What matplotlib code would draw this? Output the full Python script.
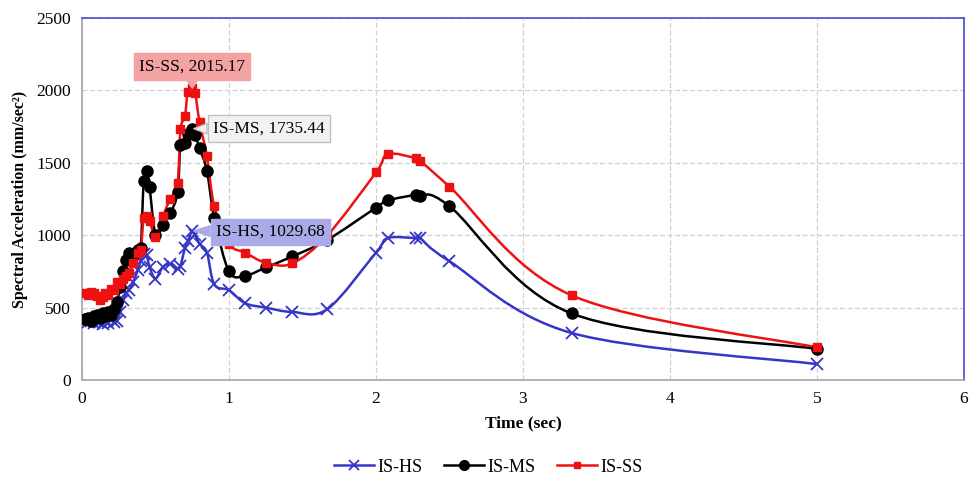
import matplotlib.pyplot as plt
from matplotlib.path import Path
from matplotlib.patches import PathPatch
from matplotlib.lines import Line2D

plt.rcParams['font.family'] = ['Liberation Serif', 'DejaVu Serif']

periods = [0.02, 0.04, 0.06, 0.08, 0.10, 0.12, 0.14, 0.16, 0.18, 0.20,
           0.22, 0.24, 0.26, 0.28, 0.30, 0.32, 0.35, 0.38, 0.40, 0.42,
           0.44, 0.46, 0.50, 0.55, 0.60, 0.65, 0.67, 0.70, 0.72, 0.75,
           0.77, 0.80, 0.85, 0.90, 1.00, 1.11, 1.25, 1.43, 1.67, 2.00,
           2.08, 2.27, 2.30, 2.50, 3.33, 5.00]

is_hs = [410, 400, 405, 395, 410, 400, 390, 405, 395, 420,
         400, 410, 470, 550, 600, 620, 680, 760, 820, 870,
         860, 780, 700, 780, 800, 770, 790, 910, 960, 1029.68,
         1000, 940, 880, 660, 620, 530, 500, 470, 490, 880,
         980, 980, 980, 820, 325, 110]

is_ms = [420, 430, 410, 440, 450, 430, 460, 440, 470, 450,
         490, 540, 640, 750, 830, 880, 860, 900, 910, 1372,
         1445, 1330, 1000, 1070, 1150, 1295, 1625, 1640, 1700, 1735.44,
         1690, 1600, 1445, 1120, 750, 720, 777, 853, 968, 1190,
         1240, 1278, 1271, 1200, 460, 215]

is_ss = [600, 590, 610, 600, 580, 550, 570, 600, 590, 630,
         620, 680, 660, 700, 720, 740, 810, 880, 900, 1120,
         1130, 1100, 990, 1130, 1250, 1360, 1730, 1820, 1990, 2015.17,
         1980, 1780, 1545, 1200, 940, 880, 810, 805, 1000, 1433,
         1560, 1532, 1514, 1335, 585, 225]


def smooth_path(x, y):
    # excel-style smoothed line as cubic bezier segments
    pts = list(zip(x, y))
    verts = [pts[0]]
    codes = [Path.MOVETO]
    n = len(pts)
    for i in range(n - 1):
        p0 = pts[i - 1] if i > 0 else pts[i]
        p1 = pts[i]
        p2 = pts[i + 1]
        p3 = pts[i + 2] if i + 2 < n else pts[i + 1]
        c1 = (p1[0] + (p2[0] - p0[0]) / 6, p1[1] + (p2[1] - p0[1]) / 6)
        c2 = (p2[0] - (p3[0] - p1[0]) / 6, p2[1] - (p3[1] - p1[1]) / 6)
        verts += [c1, c2, p2]
        codes += [Path.CURVE4] * 3
    return Path(verts, codes)


fig = plt.figure(figsize=(9.77, 4.82), dpi=100)
ax = fig.add_axes([0.0839, 0.2116, 0.9028, 0.7511])

series = [
    ('IS-HS', is_hs, '#3535C8', 'x', 8, 1.3),
    ('IS-MS', is_ms, 'black', 'o', 8, 1),
    ('IS-SS', is_ss, '#EE1111', 's', 6, 1),
]

handles = []
for name, vals, col, mk, ms, mew in series:
    ax.add_patch(PathPatch(smooth_path(periods, vals), fc='none', ec=col, lw=1.8, zorder=3))
    ax.plot(periods, vals, ls='none', marker=mk, ms=ms, color=col, mew=mew, zorder=4)
    handles.append(Line2D([], [], color=col, lw=1.8, marker=mk, ms=ms - 1, mew=mew))

ax.set_xlim(0, 6)
ax.set_ylim(0, 2500)
ax.set_xticks(range(0, 7))
ax.set_yticks(range(0, 2501, 500))
ax.tick_params(length=0, labelsize=12.5, pad=8)
ax.grid(True, color='#D0D0D0', ls=(0, (4, 2)), lw=0.9)
ax.set_axisbelow(True)

ax.spines['left'].set_color('#A6A6A6')
ax.spines['bottom'].set_color('#A6A6A6')
ax.spines['top'].set_color('#4A4AD0')
ax.spines['right'].set_color('#4A4AD0')
for s in ax.spines.values():
    s.set_linewidth(1.2)

ax.set_xlabel('Time (sec)', fontsize=12.5, fontweight='bold', labelpad=6)
ax.set_ylabel('Spectral Acceleration (mm/sec²)', fontsize=11.5, fontweight='bold', labelpad=6)

ax.annotate('IS-SS, 2015.17', xy=(0.75, 2015.17), xytext=(0.75, 2165),
            ha='center', va='center', fontsize=12.5, zorder=6,
            bbox=dict(boxstyle='square,pad=0.3', fc='#F4A3A3', ec='#F4A3A3'),
            arrowprops=dict(arrowstyle='wedge,tail_width=0.6', fc='#F4A3A3', ec='#F4A3A3',
                            shrinkA=0, shrinkB=0))
ax.annotate('IS-MS, 1735.44', xy=(0.76, 1735.44), xytext=(1.27, 1736),
            ha='center', va='center', fontsize=12.5, zorder=6,
            bbox=dict(boxstyle='square,pad=0.3', fc='#F2F2F2', ec='#BFBFBF'),
            arrowprops=dict(arrowstyle='wedge,tail_width=0.6', fc='#F2F2F2', ec='#BFBFBF',
                            shrinkA=0, shrinkB=0))
ax.annotate('IS-HS, 1029.68', xy=(0.76, 1029.68), xytext=(1.28, 1024),
            ha='center', va='center', fontsize=12.5, zorder=6,
            bbox=dict(boxstyle='square,pad=0.3', fc='#AAAAE8', ec='#AAAAE8'),
            arrowprops=dict(arrowstyle='wedge,tail_width=0.6', fc='#AAAAE8', ec='#AAAAE8',
                            shrinkA=0, shrinkB=0))

fig.legend(handles, ['IS-HS', 'IS-MS', 'IS-SS'], loc='center', bbox_to_anchor=(0.5, 0.031),
           ncol=3, frameon=False, fontsize=13, handlelength=2.2, handletextpad=0.2,
           columnspacing=1.2)

fig.savefig('out.png', dpi=100)
